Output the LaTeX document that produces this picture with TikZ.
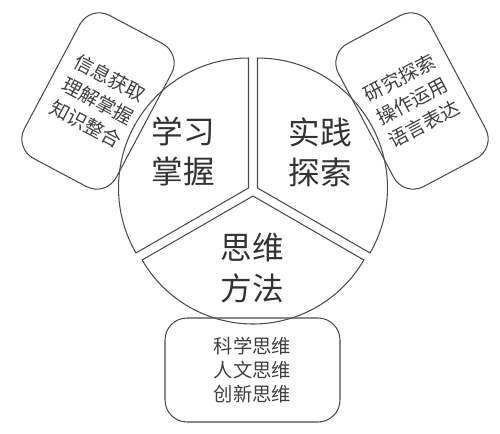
\documentclass[tikz,border=0pt]{standalone}
\usepackage{fontspec}
\newfontfamily\cjk{Noto Sans CJK SC}
\usepackage{tikz}

\begin{document}
\begin{tikzpicture}[x=0.02cm,y=0.02cm,
  part/.style={draw=black!70,line width=0.6pt},
  bigtext/.style={align=center,text=black!80,font=\cjk\fontsize{18}{23}\selectfont},
  infobox/.style={draw=black!70,line width=0.6pt,rounded corners=0.44cm,align=center,
    text=black!75,font=\cjk\fontsize{11}{13.5}\selectfont},
  tiltbox/.style={infobox,minimum width=2.08cm,minimum height=3.24cm,
    font=\cjk\fontsize{11}{15}\selectfont}]
\useasboundingbox (0,0) rectangle (500,433);
% the three parts of the circle
\draw[part] (248.5,245) -- ++(90:2.6cm) arc[start angle=90,end angle=210,radius=2.6cm] -- cycle;
\draw[part] (257.5,245) -- ++(90:2.6cm) arc[start angle=90,end angle=-30,radius=2.6cm] -- cycle;
\draw[part] (253,237) -- ++(210:2.56cm) arc[start angle=210,end angle=330,radius=2.56cm] -- cycle;

\node[bigtext] (learn) at (183,281.5) {学习\\掌握};
\node[bigtext] (practice) at (320,281) {实践\\探索};
\node[bigtext] (think) at (252,165) {思维\\方法};

% boxes round the circle
\node[tiltbox,rotate=-28] (learnbox) at (98,332) {信息获取\\理解掌握\\知识整合};
\node[tiltbox,rotate=28] (practicebox) at (412,332) {研究探索\\操作运用\\语言表达};
\node[infobox,minimum width=3.5cm,minimum height=2.08cm] (thinkbox) at (252.5,63) {科学思维\\人文思维\\创新思维};
\end{tikzpicture}
\end{document}
